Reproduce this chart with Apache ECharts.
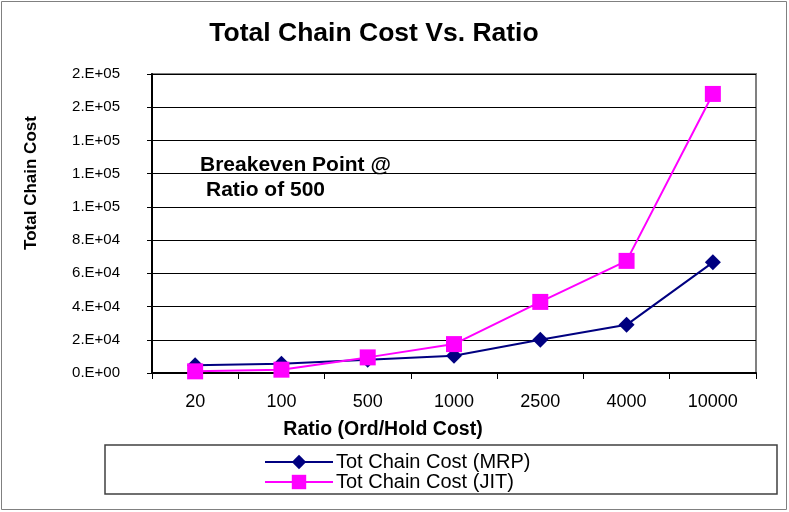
<!DOCTYPE html>
<html><head><meta charset="utf-8">
<script src="https://cdn.jsdelivr.net/npm/echarts@6/dist/echarts.min.js"></script>
<style>html,body{margin:0;padding:0;background:#fff}#c{width:789px;height:512px}</style>
</head><body><div id="c"></div>
<script>
const categories = ['20','100','500','1000','2500','4000','10000'];
const mrpValues = [4600, 5600, 8000, 10400, 20000, 29000, 66600];
const jitValues = [1000, 2000, 9400, 17400, 42800, 67500, 168000];
const seriesNames = ['Tot Chain Cost (MRP)', 'Tot Chain Cost (JIT)'];

function sci(v){
  if(v===0) return '0.E+00';
  let e = Math.floor(Math.log10(v));
  let m = Math.round(v/Math.pow(10,e));
  if(m>=10){m=1;e+=1;}
  return m + '.E+' + (e<10?'0':'') + e;
}
const F = '"Liberation Sans", Arial, sans-serif';
const chart = echarts.init(document.getElementById('c'), null, {renderer:'canvas'});
chart.setOption({
  animation:false,
  backgroundColor:'#fff',
  title:{text:'Total Chain Cost Vs. Ratio', left:369, top:15, textAlign:'center',
    textStyle:{fontFamily:F, fontSize:26.5, fontWeight:'bold', color:'#000'}},
  grid:{left:152, top:74, right:33, bottom:139, show:true, borderColor:'#808080', borderWidth:2, backgroundColor:'#fff'},
  xAxis:{type:'category', data:categories, boundaryGap:true,
    axisLine:{lineStyle:{color:'#000', width:2}},
    axisTick:{show:true, length:6, lineStyle:{color:'#000'}},
    axisLabel:{margin:20, fontFamily:F, fontSize:18, color:'#000'}},
  yAxis:{type:'value', min:0, max:180000, interval:20000,
    axisLine:{show:true, lineStyle:{color:'#000', width:2}},
    axisTick:{show:true, length:5, lineStyle:{color:'#000'}},
    splitLine:{lineStyle:{color:'#000', width:1}},
    axisLabel:{margin:32, fontFamily:F, fontSize:15, color:'#000', formatter:sci}},
  legend:{orient:'vertical', left:259, top:447, itemWidth:68, itemHeight:18, itemGap:0,
    textStyle:{fontFamily:F, fontSize:20, lineHeight:19.5, color:'#000', padding:[0,0,0,-2]},
    data:seriesNames},
  series:[
    {name:seriesNames[0], type:'line', data:mrpValues, symbol:'diamond', symbolSize:16,
      lineStyle:{color:'#000080', width:2}, itemStyle:{color:'#000080'}},
    {name:seriesNames[1], type:'line', data:jitValues, symbol:'rect', symbolSize:16,
      lineStyle:{color:'#FF00FF', width:2}, itemStyle:{color:'#FF00FF'}}
  ],
  graphic:[
    {type:'rect', shape:{x:1.5,y:1.5,width:785,height:508}, style:{fill:null, stroke:'#808080', lineWidth:1}, z:-10},
    {type:'rect', shape:{x:105,y:445,width:672,height:49}, style:{fill:null, stroke:'#404040', lineWidth:1.5}},
    {type:'text', x:383, y:430, style:{text:'Ratio (Ord/Hold Cost)', font:'bold 19.5px '+F, fill:'#000', textAlign:'center', textVerticalAlign:'middle'}},
    {type:'text', x:31, y:183, rotation:Math.PI/2, style:{text:'Total Chain Cost', font:'bold 17px '+F, fill:'#000', textAlign:'center', textVerticalAlign:'middle'}},
    {type:'text', x:200, y:165, style:{text:'Breakeven Point @', font:'bold 21px '+F, fill:'#000', textVerticalAlign:'middle'}},
    {type:'text', x:206, y:190, style:{text:'Ratio of 500', font:'bold 21px '+F, fill:'#000', textVerticalAlign:'middle'}}
  ]
});
</script></body></html>
